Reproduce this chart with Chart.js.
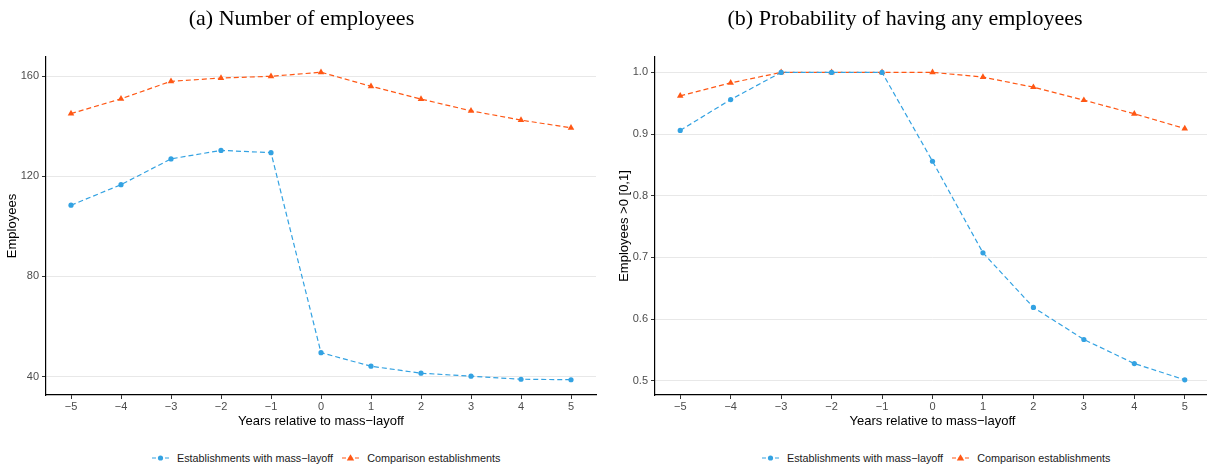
<!DOCTYPE html>
<html>
<head>
<meta charset="utf-8">
<script src="https://cdn.jsdelivr.net/npm/chart.js@4"></script>
<style>
  body { margin: 0; background: #fff; width: 1207px; height: 468px; position: relative; overflow: hidden; }
  .panel { position: absolute; top: 0; height: 440px; }
  .title { position: absolute; top: 5px; font-family: "Liberation Serif", "Times New Roman", serif; font-size: 22px; color: #000; text-align: center; white-space: nowrap; }
  .legend { position: absolute; top: 452px; display: flex; align-items: center; font-family: "Liberation Sans", Arial, sans-serif; font-size: 10.8px; color: #1a1a1a; white-space: nowrap; }
  .legend canvas { margin: 0 8px 0 0; }
  .legend span { margin-right: 9px; }
</style>
</head>
<body>
<div class="panel" style="left:0;width:603px"><canvas id="chartA" width="603" height="440"></canvas></div>
<div class="panel" style="left:603px;width:611px"><canvas id="chartB" width="611" height="440"></canvas></div>
<div class="title" style="left:0;width:603px">(a) Number of employees</div>
<div class="title" style="left:603px;width:604px">(b) Probability of having any employees</div>
<div class="legend" id="legendA"></div>
<div class="legend" id="legendB"></div>
<script>
// --- Data ---
const years = [-5, -4, -3, -2, -1, 0, 1, 2, 3, 4, 5];
const layoffEmployees = [108.4, 116.6, 126.9, 130.3, 129.4, 49.5, 44.1, 41.3, 40.1, 38.9, 38.7];
const comparisonEmployees = [145.0, 150.9, 157.9, 159.2, 159.9, 161.5, 155.9, 150.8, 146.1, 142.4, 139.3];
const layoffAny = [0.906, 0.956, 1.0, 1.0, 1.0, 0.856, 0.7075, 0.619, 0.567, 0.528, 0.5016];
const comparisonAny = [0.962, 0.983, 1.0, 1.0, 1.0, 1.0, 0.9925, 0.976, 0.955, 0.933, 0.909];
const ticksA = [40, 80, 120, 160];
const ticksB = [0.5, 0.6, 0.7, 0.8, 0.9, 1.0];
const seriesNames = ['Establishments with mass\u2212layoff', 'Comparison establishments'];

const blue = '#33A2E2';
const orange = '#FF5714';

function pts(values) {
    return years.map((x, i) => ({ x: x, y: values[i] }));
}

// blue series first so it is drawn on top where the two overlap
function makeDatasets(blueVals, orangeVals) {
    return [
        {
            label: seriesNames[0],
            data: pts(blueVals),
            borderColor: blue,
            backgroundColor: blue,
            borderWidth: 1.2,
            borderDash: [5, 3],
            pointStyle: 'circle',
            pointRadius: 2.6,
            pointBorderWidth: 0
        },
        {
            label: seriesNames[1],
            data: pts(orangeVals),
            borderColor: orange,
            backgroundColor: orange,
            borderWidth: 1.2,
            borderDash: [5, 3],
            pointStyle: 'triangle',
            pointRadius: 3.8,
            pointBorderWidth: 0
        }
    ];
}

function makeChart(id, blueVals, orangeVals, yMin, yMax, yTicks, yTitle, yWidth, titlePad, fmt, rightPad) {
    const ctx = document.getElementById(id).getContext('2d');
    return new Chart(ctx, {
        type: 'line',
        data: { datasets: makeDatasets(blueVals, orangeVals) },
        options: {
            responsive: false,
            animation: false,
            layout: { padding: { top: 57, right: rightPad, left: 0, bottom: 0 } },
            plugins: { legend: { display: false }, title: { display: false }, tooltip: { enabled: false } },
            scales: {
                x: {
                    type: 'linear',
                    min: -5.5,
                    max: 5.5,
                    afterBuildTicks: (scale) => { scale.ticks = years.map(v => ({ value: v })); },
                    afterFit: (scale) => { scale.height = 45; },
                    ticks: {
                        padding: 1,
                        color: '#4d4d4d',
                        font: { family: 'Liberation Sans', size: 11 },
                        callback: (v) => String(v).replace('-', '\u2212')
                    },
                    grid: { drawOnChartArea: false, drawTicks: true, tickLength: 4, color: '#333' },
                    border: { display: true, color: '#000', width: 1.2 },
                    title: {
                        display: true,
                        text: 'Years relative to mass\u2212layoff',
                        color: '#000',
                        font: { family: 'Liberation Sans', size: 13 },
                        padding: { top: 0, bottom: 11 }
                    }
                },
                y: {
                    type: 'linear',
                    min: yMin,
                    max: yMax,
                    afterBuildTicks: (scale) => { scale.ticks = yTicks.map(v => ({ value: v })); },
                    afterFit: (scale) => { scale.width = yWidth; },
                    ticks: {
                        padding: 3,
                        color: '#4d4d4d',
                        font: { family: 'Liberation Sans', size: 11 },
                        callback: fmt
                    },
                    grid: { color: '#e8e8e8', lineWidth: 1, tickLength: 4, tickColor: '#333', drawTicks: true },
                    border: { display: true, color: '#000', width: 1.2 },
                    title: {
                        display: true,
                        text: yTitle,
                        color: '#000',
                        font: { family: 'Liberation Sans', size: 13 },
                        padding: { top: titlePad, bottom: 0 }
                    }
                }
            }
        }
    });
}

makeChart('chartA', layoffEmployees, comparisonEmployees, 32.6, 167.6, ticksA, 'Employees', 46, 5, (v) => String(v), 7);
makeChart('chartB', layoffAny, comparisonAny, 0.477, 1.025, ticksB, 'Employees >0 [0,1]', 52, 14, (v) => v.toFixed(1), 0);

// --- Legends ---
function legendMarker(color, shape) {
    const c = document.createElement('canvas');
    c.width = 17; c.height = 10;
    const g = c.getContext('2d');
    g.strokeStyle = color;
    g.lineWidth = 1.2;
    g.setLineDash([4, 2.5]);
    g.beginPath(); g.moveTo(0, 5); g.lineTo(17, 5); g.stroke();
    g.fillStyle = color;
    g.beginPath();
    if (shape === 'circle') {
        g.arc(8.5, 5, 2.6, 0, Math.PI * 2);
    } else {
        g.moveTo(8.5, 1.3); g.lineTo(12.2, 7.6); g.lineTo(4.8, 7.6); g.closePath();
    }
    g.fill();
    return c;
}

function buildLegend(id, center) {
    const el = document.getElementById(id);
    el.appendChild(legendMarker(blue, 'circle'));
    const t1 = document.createElement('span'); t1.textContent = seriesNames[0]; el.appendChild(t1);
    el.appendChild(legendMarker(orange, 'triangle'));
    const t2 = document.createElement('span'); t2.textContent = seriesNames[1]; el.appendChild(t2);
    t2.style.marginRight = '0';
    el.style.left = (center - el.offsetWidth / 2) + 'px';
}
buildLegend('legendA', 326);
buildLegend('legendB', 936);
</script>
</body>
</html>
